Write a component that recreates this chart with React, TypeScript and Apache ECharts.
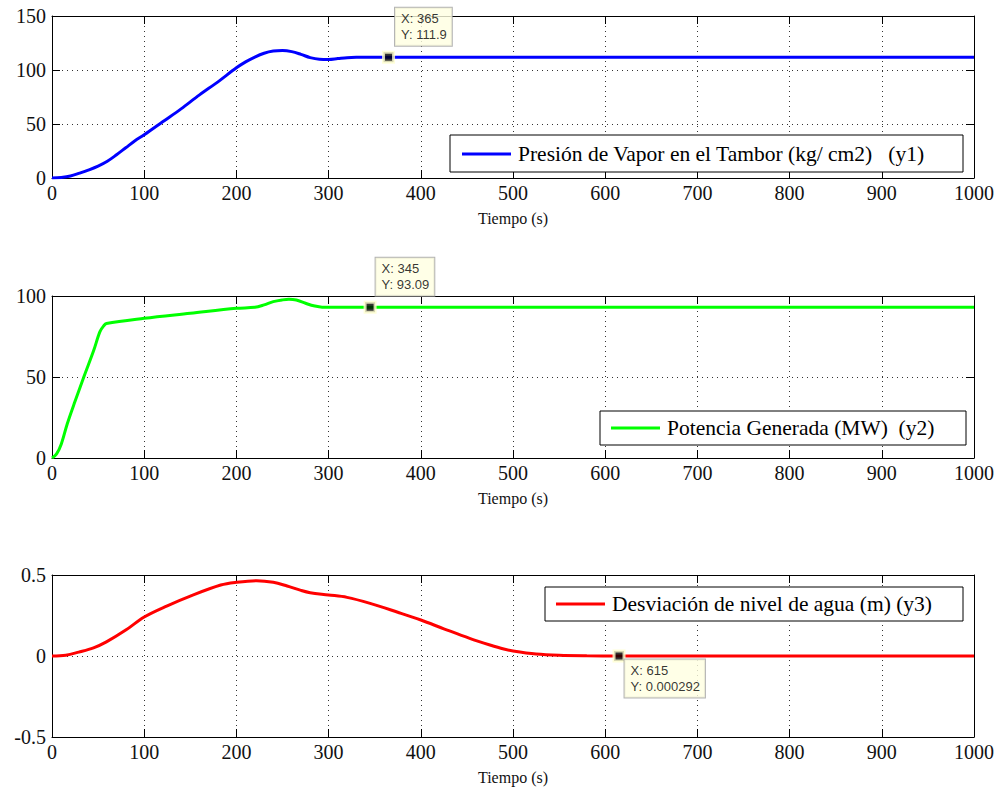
import React, { useEffect, useRef } from "react";
import * as echarts from "echarts";

// ---- data ----
const timeY1 = [0, 10, 20, 30, 40, 50, 60, 70, 80, 90, 100, 120, 140, 160, 180, 200, 210, 220, 230, 240, 250, 260, 270, 280, 290, 300, 310, 320, 330, 340, 365, 1000];
const valuesY1 = [0, 0.5, 1.8, 4.5, 7.5, 11, 15.5, 21.5, 28, 34.5, 40, 52, 64, 77, 89, 102, 107.5, 112, 115.5, 117.5, 118, 117, 114.5, 111.5, 110, 109.8, 110.6, 111.4, 111.8, 111.9, 111.9, 111.9];

const timeY2 = [0, 5, 10, 16.5, 25, 34.5, 45, 52, 56, 59, 100, 150, 200, 220, 230, 240, 250, 257, 265, 275, 285, 293, 345, 1000];
const valuesY2 = [0, 2.5, 8.5, 21, 35, 50, 66, 78, 81.5, 83, 86.2, 89.3, 92.4, 93, 94.5, 96.5, 97.6, 98, 97.5, 95.5, 93.8, 93.1, 93.09, 93.09];

const timeY3 = [0, 15, 29, 45, 59, 80, 100, 125, 150, 183, 200, 222, 240, 255, 270, 280, 300, 320, 345, 375, 400, 425, 453, 475, 490, 500, 525, 550, 580, 615, 1000];
const valuesY3 = [0, 0.005, 0.024, 0.05, 0.087, 0.16, 0.241, 0.31, 0.37, 0.438, 0.455, 0.465, 0.455, 0.432, 0.405, 0.391, 0.377, 0.362, 0.325, 0.27, 0.222, 0.168, 0.109, 0.068, 0.043, 0.031, 0.012, 0.004, 0.001, 0.000292, 0];

const seriesNames = [
  "Presión de Vapor en el Tambor (kg/ cm2)   (y1)",
  "Potencia Generada (MW)  (y2)",
  "Desviación de nivel de agua (m) (y3)",
];
const seriesColors = ["#0000FF", "#00FF00", "#FF0000"];
const yMin = [0, 0, -0.5];
const yMax = [150, 100, 0.5];
const yInterval = [50, 50, 0.5];
const xMin = 0;
const xMax = 1000;
const xInterval = 100;
const xLabel = "Tiempo (s)";
const tipX = [365, 345, 615];
const tipY = [111.9, 93.09, 0.000292];

// ---- layout ----
const gridTops = [16, 296, 575];
const gridHeight = 162;
const legendBoxes = [
  { x: 450, y: 135, w: 513, h: 37, lineX: 462, lineY: 154 },
  { x: 600, y: 411, w: 366, h: 34, lineX: 611, lineY: 428 },
  { x: 545, y: 587, w: 418, h: 34, lineX: 556, lineY: 604 },
];
const tipOffsets: [number, number][] = [[13, -43], [12, -43], [12, 10]];

const SERIF = "Liberation Serif";
const SANS = "Liberation Sans";

export default function App() {
  const ref = useRef<HTMLDivElement>(null);
  useEffect(() => {
    if (!ref.current) return;
    const chart = echarts.init(ref.current, undefined, { renderer: "svg" });
    const times = [timeY1, timeY2, timeY3];
    const vals = [valuesY1, valuesY2, valuesY3];
    const plain = (v: number) => String(v);
    const tickText = { fontFamily: SERIF, fontSize: 20, color: "#111" };

    const grid = gridTops.map((t) => ({ left: 52, right: 26, top: t, height: gridHeight, containLabel: false }));
    const xAxis: any[] = [];
    const yAxis: any[] = [];
    for (let i = 0; i < 3; i++) {
      xAxis.push({
        type: "value", gridIndex: i, min: xMin, max: xMax, interval: xInterval, position: "bottom",
        axisLine: { show: true, onZero: false, lineStyle: { color: "#000", width: 1 } },
        axisTick: { show: true, inside: true, length: 8, lineStyle: { color: "#000" } },
        axisLabel: { show: true, ...tickText, margin: 5, formatter: plain },
        splitLine: { show: true, lineStyle: { color: "#333", type: [1, 4], width: 1 } },
        name: xLabel, nameLocation: "middle", nameGap: 32,
        nameTextStyle: { fontFamily: SERIF, fontSize: 16, color: "#111" },
      });
      xAxis.push({
        type: "value", gridIndex: i, min: xMin, max: xMax, interval: xInterval, position: "top",
        axisLine: { show: true, onZero: false, lineStyle: { color: "#000", width: 1 } },
        axisTick: { show: true, inside: true, length: 8, lineStyle: { color: "#000" } },
        axisLabel: { show: false }, splitLine: { show: false },
      });
      yAxis.push({
        type: "value", gridIndex: i, min: yMin[i], max: yMax[i], interval: yInterval[i], position: "left",
        axisLine: { show: true, onZero: false, lineStyle: { color: "#000", width: 1 } },
        axisTick: { show: true, inside: true, length: 8, lineStyle: { color: "#000" } },
        axisLabel: { show: true, ...tickText, margin: 6, formatter: plain },
        splitLine: { show: true, lineStyle: { color: "#333", type: [1, 4], width: 1 } },
      });
      yAxis.push({
        type: "value", gridIndex: i, min: yMin[i], max: yMax[i], interval: yInterval[i], position: "right",
        axisLine: { show: true, onZero: false, lineStyle: { color: "#000", width: 1 } },
        axisTick: { show: true, inside: true, length: 8, lineStyle: { color: "#000" } },
        axisLabel: { show: false }, splitLine: { show: false },
      });
    }

    const series: any[] = [];
    for (let i = 0; i < 3; i++) {
      series.push({
        name: seriesNames[i], type: "line", xAxisIndex: i * 2, yAxisIndex: i * 2,
        data: times[i].map((t, k) => [t, vals[i][k]]),
        showSymbol: false, smooth: 0.35, lineStyle: { color: seriesColors[i], width: 3 },
        itemStyle: { color: seriesColors[i] }, z: 3,
      });
    }
    for (let i = 0; i < 3; i++) {
      series.push({
        name: "tip" + i, type: "scatter", xAxisIndex: i * 2, yAxisIndex: i * 2,
        data: [[tipX[i], tipY[i]]], symbol: "rect", symbolSize: 10, z: 10, clip: false,
        itemStyle: { color: "#000", borderColor: "#FFFFD0", borderWidth: 3 },
        label: {
          show: true, position: tipOffsets[i],
          formatter: () => `X: ${tipX[i]}\nY: ${tipY[i]}`,
          backgroundColor: "#FFFFE1", borderColor: "#A0A0A0", borderWidth: 1,
          padding: [3, 5, 3, 6], fontFamily: SANS, fontSize: 13, lineHeight: 16, color: "#000",
        },
        emphasis: { disabled: true },
      });
    }

    const legend = legendBoxes.map((b, i) => ({
      data: [seriesNames[i]], left: b.lineX, top: b.lineY - 11, padding: 0,
      icon: "rect", itemWidth: 49, itemHeight: 3, selectedMode: false,
      textStyle: { fontFamily: SERIF, fontSize: 21.5, color: "#000", lineHeight: 22, padding: [0, 0, 0, 2] },
    }));

    const graphic = legendBoxes.map((b) => ({
      type: "rect", shape: { x: b.x, y: b.y, width: b.w, height: b.h },
      style: { fill: "#fff", stroke: "#000", lineWidth: 1 }, z: 4, silent: true,
    }));

    chart.setOption({
      animation: false,
      backgroundColor: "#fff",
      textStyle: { fontFamily: SERIF },
      grid, xAxis, yAxis, series, legend, graphic,
      tooltip: { show: false },
    });
    return () => chart.dispose();
  }, []);
  return <div ref={ref} style={{ position: "absolute", left: 0, top: 0, width: 1000, height: 789 }} />;
}
